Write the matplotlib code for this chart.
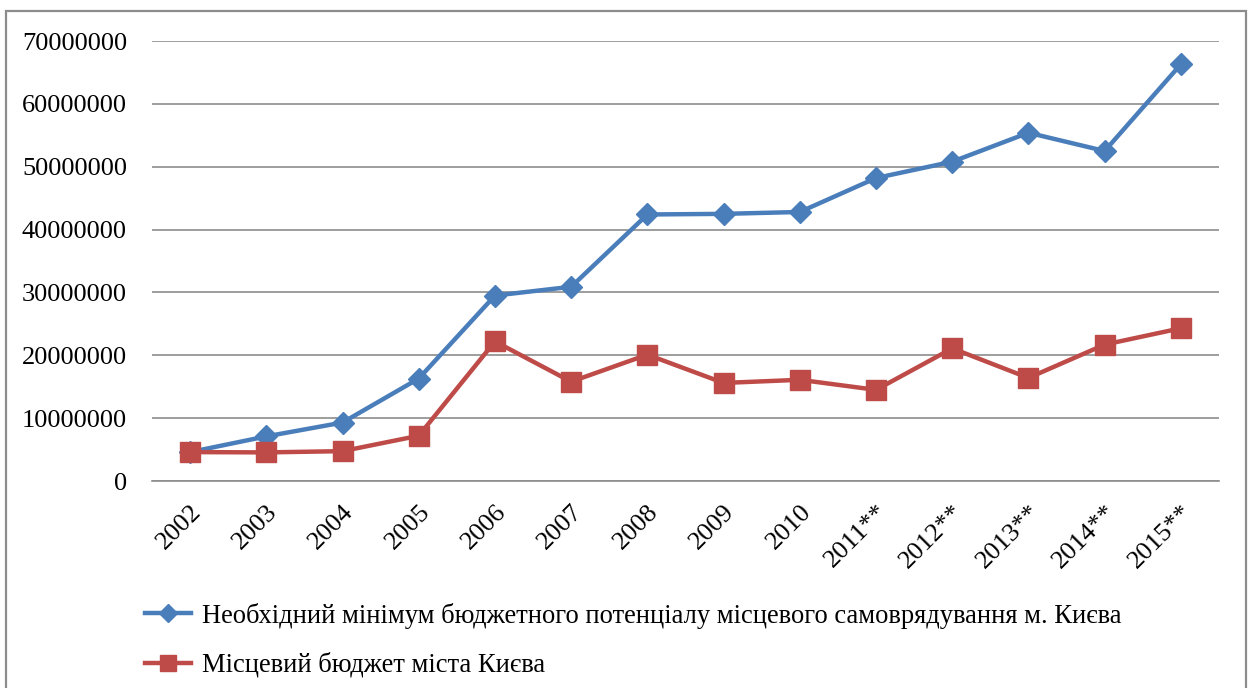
import matplotlib
matplotlib.use("Agg")
import matplotlib.pyplot as plt
from matplotlib.patches import Rectangle
from matplotlib.ticker import FuncFormatter

years = ["2002", "2003", "2004", "2005", "2006", "2007", "2008", "2009", "2010",
         "2011**", "2012**", "2013**", "2014**", "2015**"]
required_min = [4.6e6, 7.1e6, 9.3e6, 16.3e6, 29.5e6, 30.9e6, 42.4e6, 42.5e6, 42.8e6,
                48.2e6, 50.8e6, 55.4e6, 52.5e6, 66.3e6]
local_budget = [4.6e6, 4.55e6, 4.75e6, 7.2e6, 22.2e6, 15.8e6, 20.1e6, 15.6e6, 16.1e6,
                14.5e6, 21.1e6, 16.4e6, 21.7e6, 24.3e6]
label_blue = "Необхідний мінімум бюджетного потенціалу місцевого самоврядування м. Києва"
label_red = "Місцевий бюджет міста Києва"

plt.rcParams['font.family'] = ['Liberation Serif', 'DejaVu Serif']

fig = plt.figure(figsize=(12.48, 6.88), dpi=100)
ax = fig.add_axes([152/1248, 1-481/688, (1219-152)/1248, (481-41)/688])

x = list(range(len(years)))
blue = "#4A7EBB"
red = "#BE4B48"
ax.plot(x, required_min, color=blue, lw=3.2, marker='D', markersize=11, label=label_blue, zorder=3)
ax.plot(x, local_budget, color=red, lw=3.2, marker='s', markersize=14.5, label=label_red, zorder=4)

ax.set_xlim(-0.5, len(years)-0.5)
ax.set_ylim(0, 70e6)
ax.set_yticks([i*10e6 for i in range(8)])
ax.yaxis.set_major_formatter(FuncFormatter(lambda v, p: f"{int(round(v))}"))
ax.grid(axis='y', color='#8c8c8c', lw=1.2)
ax.set_axisbelow(True)
for s in ['top', 'right', 'left']:
    ax.spines[s].set_visible(False)
ax.spines['bottom'].set_color('#8c8c8c')
ax.spines['bottom'].set_linewidth(1.2)
ax.tick_params(axis='both', length=0, labelsize=19, colors='black')
ax.tick_params(axis='y', pad=18)
ax.set_xticks(x)
ax.set_xticklabels(years, rotation=45, ha='right', rotation_mode='anchor')
ax.tick_params(axis='x', pad=14)

leg = fig.legend(loc='upper left', bbox_to_anchor=(134/1248, 1-592/688), frameon=False,
                 fontsize=19.1, handlelength=1.75, handletextpad=0.4, labelspacing=0.9,
                 borderaxespad=0, markerscale=0.8)

fig.patches.append(Rectangle((6/1248, -0.02), (1246-6)/1248, 1-11/688+0.02,
                             transform=fig.transFigure, fill=False,
                             edgecolor='#8c8c8c', lw=1.6))

fig.savefig("out.png", dpi=100)
